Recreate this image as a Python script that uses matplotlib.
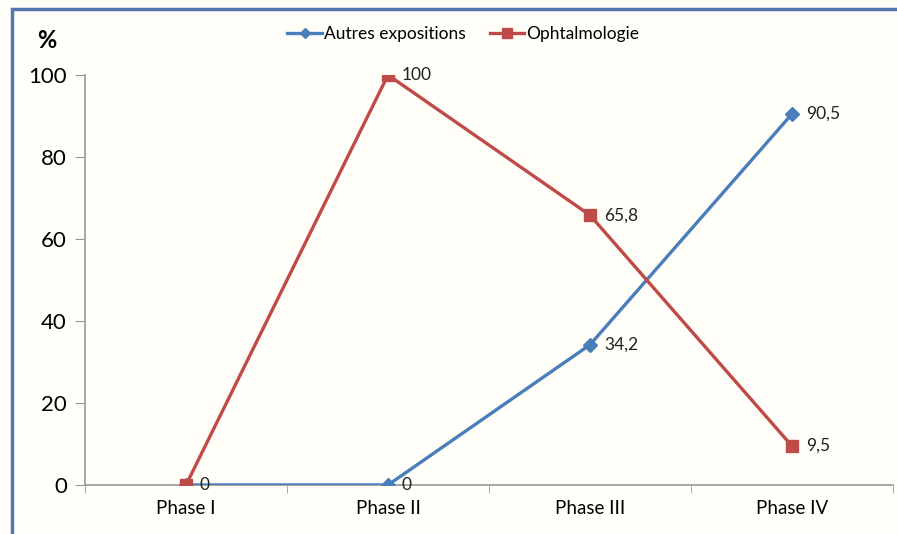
import matplotlib.pyplot as plt
from matplotlib.patches import Rectangle

phases = ["Phase I", "Phase II", "Phase III", "Phase IV"]
autres = [0, 0, 34.2, 90.5]
ophtalmo = [0, 100, 65.8, 9.5]
autres_labels = ["", "0", "34,2", "90,5"]
ophtalmo_labels = ["0", "100", "65,8", "9,5"]

plt.rcParams['font.family'] = ['Lato', 'DejaVu Sans']

fig = plt.figure(figsize=(8.97, 5.34), dpi=100)
fig.patch.set_facecolor('#fffef9')
ax = fig.add_axes([0.0948, 0.0918, 0.9007, 0.7678])
ax.set_facecolor('none')

blue = '#4a7ebb'
red = '#be4b48'
x = list(range(len(phases)))

ax.plot(x, autres, color=blue, lw=2.4, marker='D', ms=7, label="Autres expositions", zorder=3)
ax.plot(x, ophtalmo, color=red, lw=2.4, marker='s', ms=9, label="Ophtalmologie", zorder=4)

for xi, v, t in zip(x, autres, autres_labels):
    if t:
        ax.annotate(t, (xi, v), xytext=(10, 0), textcoords='offset points',
                    va='center', ha='left', fontsize=12.5, color='#222222')
for xi, v, t in zip(x, ophtalmo, ophtalmo_labels):
    ax.annotate(t, (xi, v), xytext=(10, 0), textcoords='offset points',
                va='center', ha='left', fontsize=12.5, color='#222222')

ax.set_xlim(-0.5, 3.5)
ax.set_ylim(0, 100)
ax.set_yticks([0, 20, 40, 60, 80, 100])
ax.set_xticks(x)
ax.set_xticklabels(phases, fontsize=13.5)
ax.set_xticks([-0.5, 0.5, 1.5, 2.5, 3.5], minor=True)
ax.tick_params(axis='x', which='major', length=0, pad=11)
ax.tick_params(axis='x', which='minor', length=6, color='#999999', direction='out')
ax.tick_params(axis='y', labelsize=16, length=7, color='#999999', pad=6)
for s in ['top', 'right']:
    ax.spines[s].set_visible(False)
for s in ['left', 'bottom']:
    ax.spines[s].set_color('#999999')
    ax.spines[s].set_linewidth(1.2)
ax.spines['bottom'].set_zorder(2)

fig.text(0.052, 0.925, "%", fontsize=17, fontweight='bold', ha='center', va='center')

ax.legend(loc='center', bbox_to_anchor=(0.468, 1.1), ncol=2, frameon=False,
          fontsize=12.5, handlelength=2.0, handletextpad=0.1, columnspacing=1.4,
          markerscale=0.75)

fig.add_artist(Rectangle((0.0134, -0.05), 1.1, 1.033, transform=fig.transFigure,
                         fill=False, edgecolor='#5577b0', lw=2.5))

fig.savefig("out.png", dpi=100, facecolor=fig.get_facecolor())
